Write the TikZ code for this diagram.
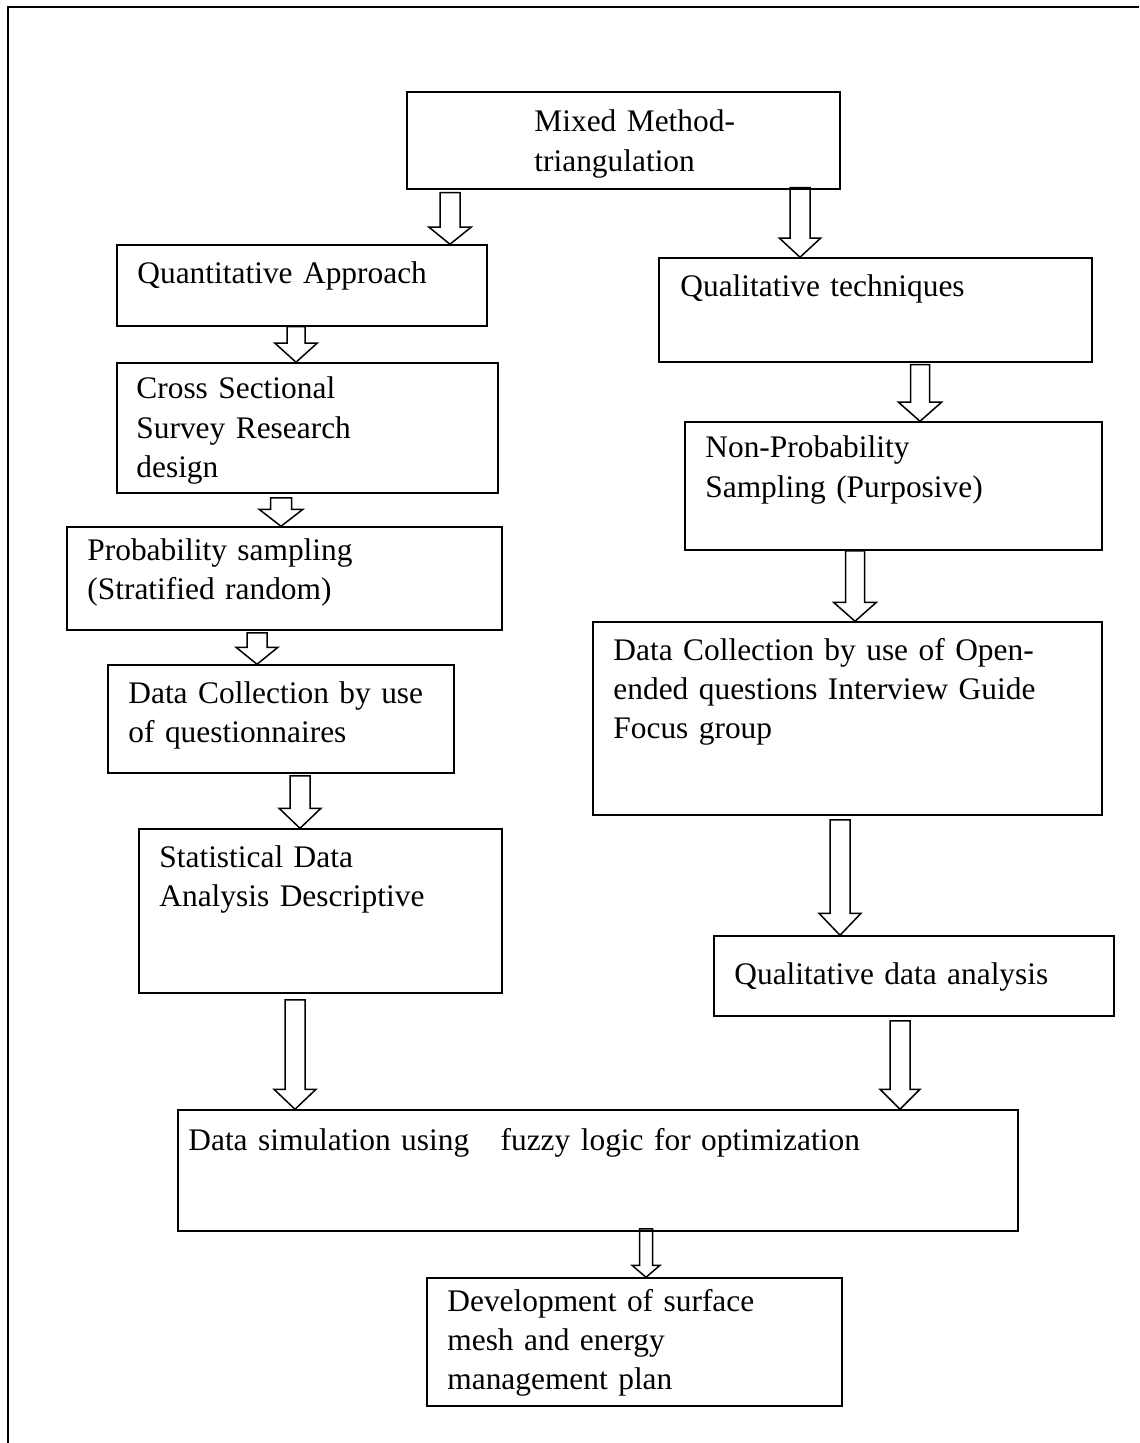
\documentclass[tikz,border=0pt]{standalone}
\usepackage{fontspec}
\setmainfont{Liberation Serif}
\usetikzlibrary{calc,fit}

\tikzset{
  box/.style={draw, line width=0.75pt, inner sep=0pt},
  txt/.style={anchor=base west, inner sep=0pt, align=left, text width=300pt,
    font=\fontsize{15.7pt}{19.6pt}\selectfont},
  blk/.style={draw, line width=0.75pt, line join=miter},
  frame/.style={draw, line width=1.2pt}
}

% rectangular step box spanning two corners (pixel-like units)
\newcommand\flowbox[5]{\node[box, fit={(#2,#3) (#4,#5)}] (#1) {};}
% hollow block arrow: from, to, centre x, half shaft, half head, head length, top offset
\newcommand\blockarrow[7]{%
  \draw[blk] ($(#3-#4,0 |- #1.south)+(0,#7)$)
    -- ($(#3-#4,0 |- #2.north)+(0,-#6)$)
    -- ($(#3-#5,0 |- #2.north)+(0,-#6)$)
    -- (#3,0 |- #2.north)
    -- ($(#3+#5,0 |- #2.north)+(0,-#6)$)
    -- ($(#3+#4,0 |- #2.north)+(0,-#6)$)
    -- ($(#3+#4,0 |- #1.south)+(0,#7)$) -- cycle;}

\begin{document}
\begin{tikzpicture}[x=0.5pt,y=-0.5pt]
\useasboundingbox (0,0) rectangle (1139,1443);

% page frame (top and left edges)
\draw[frame] (1139,7) -- (8,7) -- (8,1443);

% boxes and their texts
\flowbox{mm}{407}{92}{840}{189}
\node[txt] (mmt) at (534,132) {Mixed Method-\\triangulation};

\flowbox{quant}{117}{245}{487}{326}
\node[txt] (quantt) at (137,284) {Quantitative Approach};

\flowbox{qualt}{659}{258}{1092}{362}
\node[txt] (qualtt) at (680,297) {Qualitative techniques};

\flowbox{cross}{117}{363}{498}{493}
\node[txt] (crosst) at (136,399) {Cross Sectional\\Survey Research\\design};

\flowbox{prob}{67}{527}{502}{630}
\node[txt] (probt) at (87,560) {Probability sampling\\(Stratified random)};

\flowbox{dcl}{108}{665}{454}{773}
\node[txt] (dclt) at (128,703) {Data Collection by use\\of questionnaires};

\flowbox{stat}{139}{829}{502}{993}
\node[txt] (statt) at (159,867) {Statistical Data\\Analysis Descriptive};

\flowbox{nonp}{685}{422}{1102}{550}
\node[txt] (nonpt) at (705,458) {Non-Probability\\Sampling (Purposive)};

\flowbox{dcr}{593}{622}{1102}{815}
\node[txt] (dcrt) at (613,660) {Data Collection by use of Open-\\ended questions Interview Guide\\Focus group};

\flowbox{qda}{714}{936}{1114}{1016}
\node[txt] (qdat) at (734,984) {Qualitative data analysis};

\flowbox{dsim}{178}{1110}{1018}{1231}
\node[txt, text width=450pt] (dsimt) at (188,1150) {Data simulation using \ \ fuzzy logic for optimization};

\flowbox{dev}{427}{1278}{842}{1406}
\node[txt] (devt) at (447,1311) {Development of surface\\mesh and energy\\management plan};

% block arrows
\blockarrow{mm}{quant}{450}{10}{21}{17}{3}
\blockarrow{mm}{qualt}{800}{10}{20.5}{19}{-2}
\blockarrow{quant}{cross}{296}{9}{21}{19}{0}
\blockarrow{cross}{prob}{281}{10.5}{22}{17}{4}
\blockarrow{prob}{dcl}{257}{10}{21}{17}{2}
\blockarrow{dcl}{stat}{300}{10}{21}{20}{2}
\blockarrow{stat}{dsim}{295}{10}{21}{20}{6}
\blockarrow{qda}{dsim}{900}{10}{20}{20}{4}
\blockarrow{qualt}{nonp}{920}{9.5}{21.5}{19}{2}
\blockarrow{nonp}{dcr}{855}{9.5}{21.5}{19}{0}
\blockarrow{dcr}{qda}{840}{10}{21}{22}{4}
\blockarrow{dsim}{dev}{646}{6.5}{14}{12}{-3}
\end{tikzpicture}
\end{document}
